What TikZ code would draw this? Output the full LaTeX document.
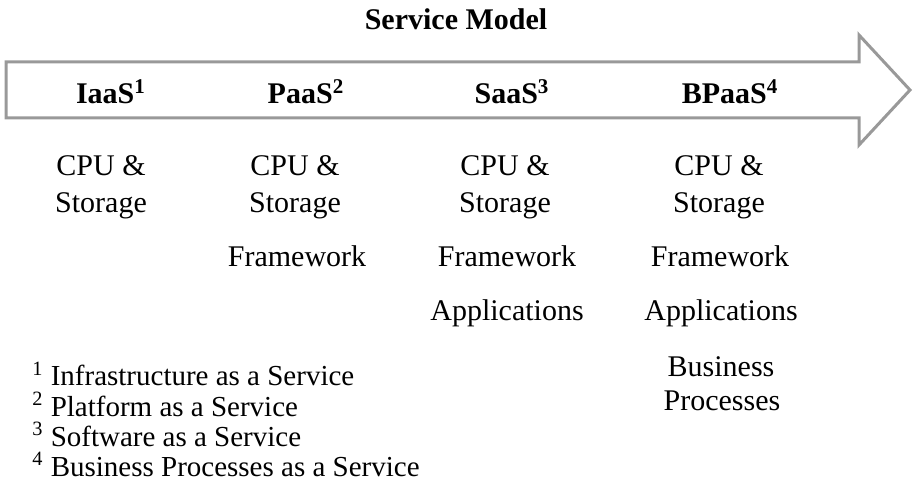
\documentclass[tikz,border=0pt]{standalone}
\usepackage{fontspec}
\setmainfont{Liberation Serif}
\usetikzlibrary{positioning}
\begin{document}
\begin{tikzpicture}[x=0.5pt,y=-0.5pt,font=\fontsize{15}{17}\selectfont]
	\def \titleht{30}
	\def \headht{104}
	\def \cpuht{176}
	\def \storht{213}
	\def \frameht{267}
	\def \appht{321}
	\def \busht{377}
	\def \procht{410}
	\tikzstyle{h-node}=[font=\fontsize{15}{17}\selectfont\bfseries,anchor=base,inner sep=0pt]
	\tikzstyle{c-node}=[anchor=base,inner sep=0pt,text height=10pt,text depth=3pt]
	\tikzstyle{f-node}=[font=\fontsize{14.5}{16}\selectfont,anchor=base west,inner sep=0pt,text height=9pt,text depth=3pt]
	\tikzstyle{band}=[draw=black!40,line width=1.5pt,line join=miter]
	\useasboundingbox (0,0) rectangle (915,496);

	% arrow
	\draw[band] (6,62) -- (859,62) -- (859,35) -- (910,90) -- (859,145)
		-- (859,118) -- (6,118) -- cycle;

	% labels
	\node[h-node] (title) at (456,\titleht) {Service Model};
	\node[h-node] (iaas)  at (111,\headht) {IaaS\textsuperscript{1}};
	\node[h-node] (paas)  at (306,\headht) {PaaS\textsuperscript{2}};
	\node[h-node] (saas)  at (512,\headht) {SaaS\textsuperscript{3}};
	\node[h-node] (bpaas) at (730,\headht) {BPaaS\textsuperscript{4}};

	% IaaS column
	\node[c-node] (c1a) at (101,\cpuht)  {CPU \&};
	\node[c-node] (c1b) at (101,\storht) {Storage};

	% PaaS column
	\node[c-node] (c2a) at (295,\cpuht)   {CPU \&};
	\node[c-node] (c2b) at (295,\storht)  {Storage};
	\node[c-node] (c2c) at (297,\frameht) {Framework};

	% SaaS column
	\node[c-node] (c3a) at (505,\cpuht)   {CPU \&};
	\node[c-node] (c3b) at (505,\storht)  {Storage};
	\node[c-node] (c3c) at (507,\frameht) {Framework};
	\node[c-node] (c3d) at (507,\appht)   {Applications};

	% BPaaS column
	\node[c-node] (c4a) at (719,\cpuht)   {CPU \&};
	\node[c-node] (c4b) at (719,\storht)  {Storage};
	\node[c-node] (c4c) at (720,\frameht) {Framework};
	\node[c-node] (c4d) at (721,\appht)   {Applications};
	\node[c-node] (c4e) at (721,\busht)   {Business};
	\node[c-node] (c4f) at (722,\procht)  {Processes};

	% footnotes
	\node[f-node] (fn1) at (32,386) {\textsuperscript{1} Infrastructure as a Service};
	\node[f-node] (fn2) at (32,416) {\textsuperscript{2} Platform as a Service};
	\node[f-node] (fn3) at (32,446) {\textsuperscript{3} Software as a Service};
	\node[f-node] (fn4) at (32,476) {\textsuperscript{4} Business Processes as a Service};
\end{tikzpicture}
\end{document}
